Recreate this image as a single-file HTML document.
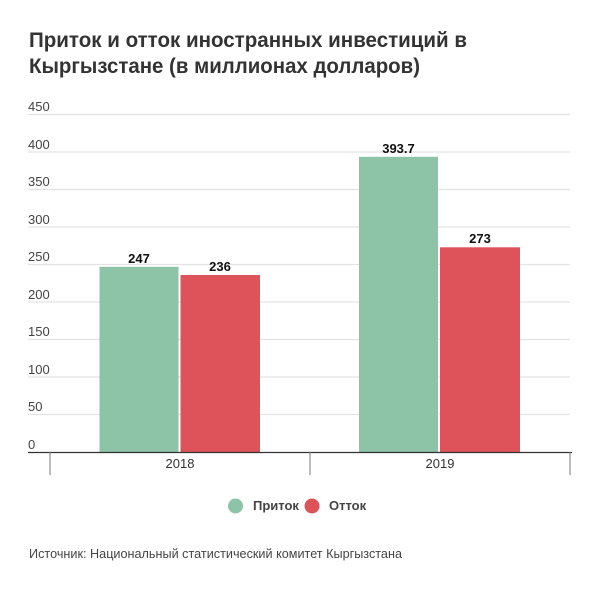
<!DOCTYPE html>
<html><head><meta charset="utf-8"><style>
body{margin:0;background:#fff;width:600px;height:591px;overflow:hidden;font-family:"Liberation Sans",sans-serif}
</style></head><body>
<svg width="600" height="591" xmlns="http://www.w3.org/2000/svg" font-family="Liberation Sans, sans-serif">
<text x="29" y="47" font-size="21" font-weight="bold" fill="#333" textLength="438" lengthAdjust="spacingAndGlyphs">Приток и отток иностранных инвестиций в</text>
<text x="29" y="73" font-size="21" font-weight="bold" fill="#333" textLength="391" lengthAdjust="spacingAndGlyphs">Кыргызстане (в миллионах долларов)</text>
<g stroke="#e3e3e3" stroke-width="1.3">
<line x1="28" x2="570" y1="114.5" y2="114.5"/><line x1="28" x2="570" y1="152" y2="152"/>
<line x1="28" x2="570" y1="189.5" y2="189.5"/><line x1="28" x2="570" y1="227" y2="227"/>
<line x1="28" x2="570" y1="264.5" y2="264.5"/><line x1="28" x2="570" y1="302" y2="302"/>
<line x1="28" x2="570" y1="339.5" y2="339.5"/><line x1="28" x2="570" y1="377" y2="377"/>
<line x1="28" x2="570" y1="414.5" y2="414.5"/>
</g>
<g font-size="13" fill="#444">
<text x="28" y="111">450</text><text x="28" y="149">400</text><text x="28" y="186">350</text>
<text x="28" y="224">300</text><text x="28" y="261">250</text><text x="28" y="299">200</text>
<text x="28" y="336">150</text><text x="28" y="374">100</text><text x="28" y="411">50</text>
<text x="28" y="449">0</text>
</g>
<rect x="99.5" y="266.8" width="79" height="185.2" fill="#8dc3a7"/>
<rect x="180.5" y="275" width="79.5" height="177" fill="#de525a"/>
<rect x="359" y="156.8" width="79" height="295.2" fill="#8dc3a7"/>
<rect x="440" y="247.3" width="80" height="204.7" fill="#de525a"/>
<g font-size="13" font-weight="bold" fill="#111" text-anchor="middle">
<text x="139" y="263">247</text><text x="220" y="271">236</text>
<text x="398.5" y="153">393.7</text><text x="480" y="243">273</text>
</g>
<line x1="28" x2="572" y1="452.5" y2="452.5" stroke="#333" stroke-width="1.3"/>
<g stroke="#777" stroke-width="1"><line x1="50" x2="50" y1="452" y2="475"/><line x1="310" x2="310" y1="452" y2="475"/><line x1="570" x2="570" y1="452" y2="475"/></g>
<g font-size="13" fill="#333" text-anchor="middle"><text x="180" y="468">2018</text><text x="440" y="468">2019</text></g>
<circle cx="235.5" cy="506" r="7.5" fill="#8dc3a7"/><circle cx="312" cy="506" r="7.5" fill="#de525a"/>
<g font-size="13" font-weight="bold" fill="#444"><text x="253" y="510">Приток</text><text x="329" y="510">Отток</text></g>
<text x="29" y="558" font-size="13" fill="#444" textLength="373" lengthAdjust="spacingAndGlyphs">Источник: Национальный статистический комитет Кыргызстана</text>
</svg>
</body></html>
